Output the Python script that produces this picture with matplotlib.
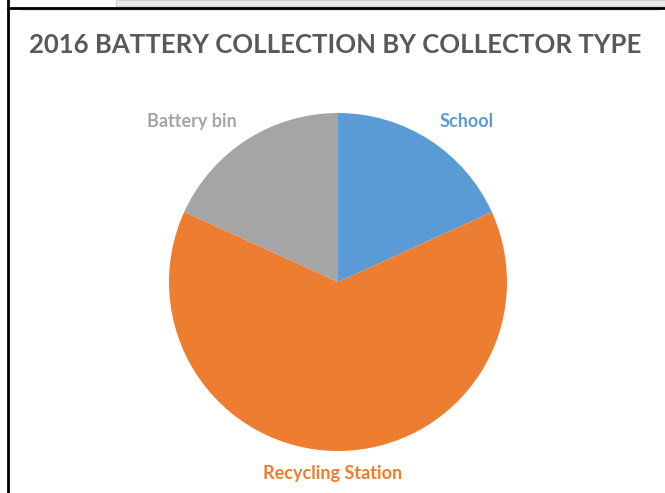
import matplotlib
import matplotlib.pyplot as plt
from matplotlib.lines import Line2D
from matplotlib.patches import Rectangle

matplotlib.use("Agg")

# data
categories = ["School", "Recycling Station", "Battery bin"]
values = [18.2, 63.6, 18.2]
colors = ["#5B9BD5", "#ED7D31", "#A5A5A5"]

title = "2016 BATTERY COLLECTION BY COLLECTOR TYPE"

W, H = 665, 493
fig = plt.figure(figsize=(W / 100, H / 100), dpi=100)
plt.rcParams["font.family"] = ["Lato", "DejaVu Sans"]

# screenshot frame bits
fig.patches.append(Rectangle((116 / W, 1 - 6 / H), 1, 6 / H, transform=fig.transFigure,
                             facecolor="#ececec", edgecolor="#d4d4d4", linewidth=1))
fig.patches.append(Rectangle((20 / W, 1 - 11 / H), 640 / W, 3 / H, transform=fig.transFigure,
                             facecolor="#e6e6e6", edgecolor="none"))
fig.lines.append(Line2D([8 / W, 1], [1 - 7.5 / H, 1 - 7.5 / H], transform=fig.transFigure,
                        color="black", linewidth=2))
fig.lines.append(Line2D([8 / W, 8 / W], [0, 1], transform=fig.transFigure,
                        color="black", linewidth=2))

fig.text(335 / W, 1 - 45 / H, title, ha="center", va="center", fontsize=18.5,
         fontweight="bold", color="#595959")

# pie: center (338, 282) px, radius 169 px
cx, cy, r = 338, 282, 169
ax = fig.add_axes([(cx - r) / W, (H - cy - r) / H, 2 * r / W, 2 * r / H])
wedges, texts = ax.pie(values, labels=categories, colors=colors, startangle=90,
                       counterclock=False, labeldistance=1.22,
                       wedgeprops={"linewidth": 0})
ax.set_xlim(-1, 1)
ax.set_ylim(-1, 1)
ax.set_aspect("equal")
ax.axis("off")

label_pos = {"School": (467, 121), "Recycling Station": (333, 473), "Battery bin": (192, 121)}
for t, c in zip(texts, colors):
    px, py = label_pos[t.get_text()]
    t.set_position(((px - cx) / r, (cy - py) / r))
    t.set_ha("center")
    t.set_va("center")
    t.set_fontsize(13)
    t.set_fontweight("bold")
    t.set_color(c)

fig.savefig("out.png", dpi=100)
